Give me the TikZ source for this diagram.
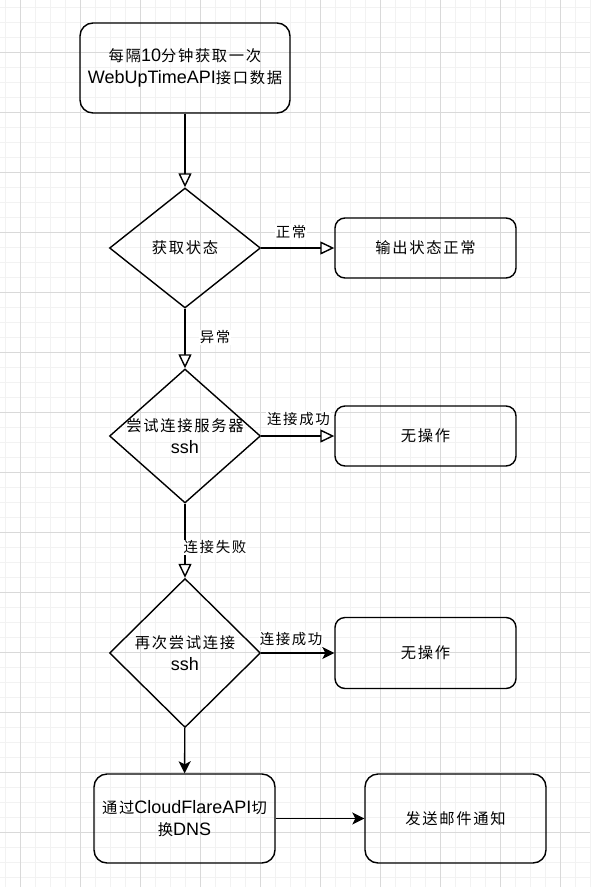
\documentclass[tikz,border=0pt]{standalone}
\usepackage{fontspec}
\setmainfont{Liberation Sans}
\newfontfamily\cjk[Scale=0.85,LetterSpace=11]{Noto Sans CJK SC}
\newcommand{\zh}[1]{{\cjk #1}}
\usetikzlibrary{shapes.geometric,arrows.meta}
\definecolor{gridminor}{HTML}{F2F2F2}
\definecolor{gridmajor}{HTML}{D9D9D9}

\begin{document}
\begin{tikzpicture}[x=1pt, y=-1pt,
    every node/.style={font=\fontsize{18}{22}\selectfont, align=center},
    box/.style={draw, line width=1.4pt, rounded corners=10pt, inner sep=0pt, minimum width=181pt},
    dia/.style={diamond, draw, line width=1.4pt, inner sep=0pt, minimum width=151pt},
    lbl/.style={fill=white, inner sep=1pt, font=\fontsize{17}{19}\selectfont},
    openarr/.style={line width=1.4pt, -{Triangle[length=14pt, width=13pt, fill=white]}},
    fullarr/.style={line width=1.4pt, -{Stealth[length=12pt, width=12pt, inset=3pt]}}]
        \useasboundingbox (0,0) rectangle (590,887);
        \fill[white] (0,0) rectangle (590,887);

        % fond quadrillé
        \foreach \x in {5,20,...,590} \draw[gridminor, line width=1pt] (\x,0) -- (\x,887);
        \foreach \y in {7,22,...,887} \draw[gridminor, line width=1pt] (0,\y) -- (590,\y);
        \foreach \x in {20,80,...,590} \draw[gridmajor, line width=1pt] (\x,0) -- (\x,887);
        \foreach \y in {52,112,...,887} \draw[gridmajor, line width=1pt] (0,\y) -- (590,\y);

        % colonne principale
        \node[box, minimum width=210pt, minimum height=90pt, rounded corners=13pt] (fetch) at (185,68)
          {\zh{每隔}10\zh{分钟获取一次}\\WebUpTimeAPI\zh{接口数据}};
        \node[dia, minimum height=120pt] (state) at (185,248) {};
        \node (state-t) at (state) {\zh{获取状态}};
        \node[dia, minimum height=134pt] (ssh) at (185,436) {};
        \node (ssh-t) at (ssh) {\zh{尝试连接服务器}\\ssh};
        \node[dia, minimum height=149pt] (retry) at (185,653) {};
        \node (retry-t) at (retry) {\zh{再次尝试连接}\\ssh};
        \node[box, minimum height=89pt, rounded corners=13pt] (swap) at (184.5,818.5)
          {\zh{通过}CloudFlareAPI\zh{切}\\\zh{换}DNS};

        % colonne de droite
        \node[box, minimum height=60pt] (ok) at (425.5,248) {\zh{输出状态正常}};
        \node[box, minimum height=60pt] (noop1) at (425.5,436) {\zh{无操作}};
        \node[box, minimum height=71pt] (noop2) at (425.5,653) {\zh{无操作}};
        \node[box, minimum height=89pt, rounded corners=13pt] (mail) at (455.5,818.5) {\zh{发送邮件通知}};

        \draw[openarr] (fetch) -- (state);
        \draw[openarr] (state) -- node[lbl, pos=0.41, yshift=16pt] (l-ok) {\zh{正常}} (ok);
        \draw[openarr] (state) -- node[lbl, pos=0.48, xshift=30pt] (l-err) {\zh{异常}} (ssh);
        \draw[openarr] (ssh) -- node[lbl, pos=0.51, yshift=17pt] (l-succ1) {\zh{连接成功}} (noop1);
        \draw[openarr] (ssh) -- node[lbl, pos=0.59, xshift=30pt] (l-fail) {\zh{连接失败}} (retry);
        \draw[fullarr] (retry) -- node[lbl, pos=0.41, yshift=14pt] (l-succ2) {\zh{连接成功}} (noop2);
        \draw[fullarr] (retry) -- (swap);
        \draw[fullarr] (swap) -- (mail);
      \end{tikzpicture}
\end{document}
